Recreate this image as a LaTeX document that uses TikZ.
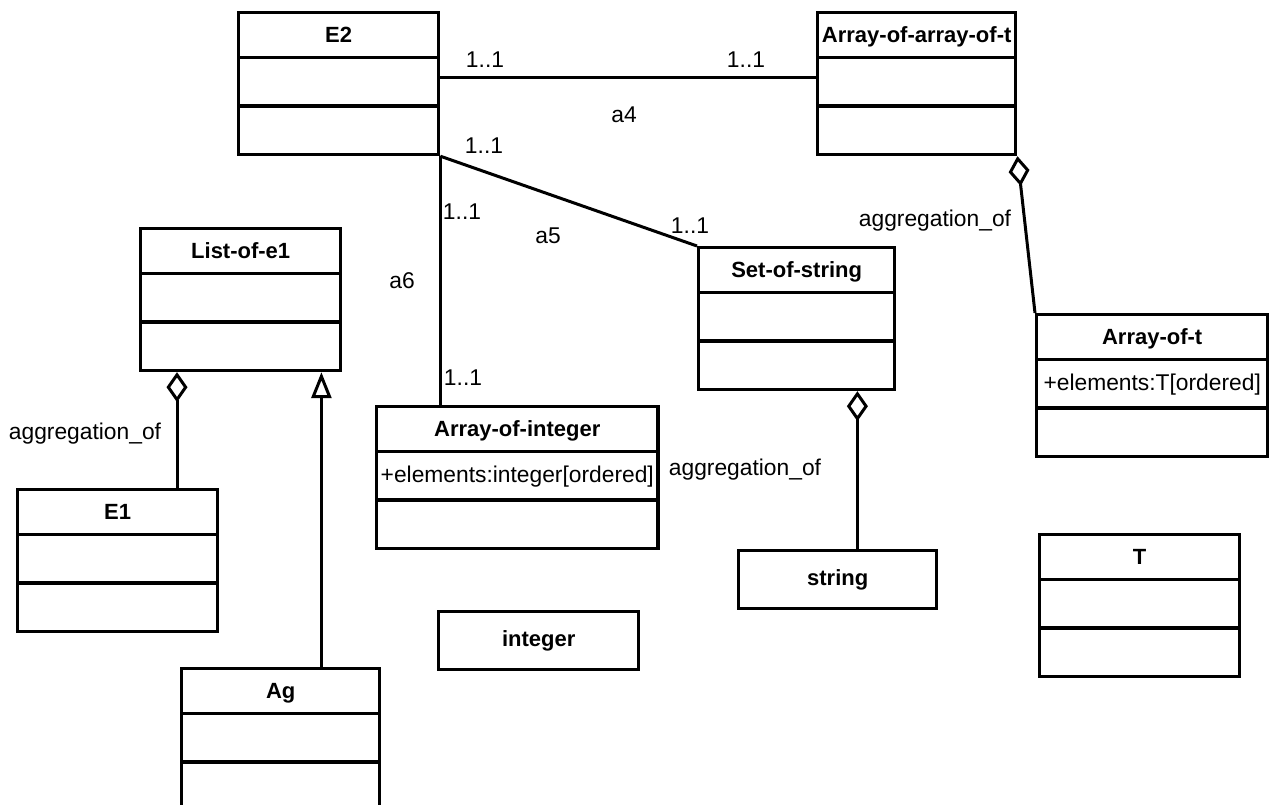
\documentclass[tikz,border=0pt]{standalone}
\usepackage{fontspec}
\setmainfont{Liberation Sans}
\usetikzlibrary{shapes.multipart,arrows.meta}

\newcommand{\lblfont}{\fontsize{11.4}{13}\selectfont}
\newcommand{\ttlfont}{\fontsize{11}{13}\selectfont\bfseries}
\newcommand{\ctitle}[1]{\rule[-6.8pt]{0pt}{20.6pt}{\ttlfont #1}}
\newcommand{\cslot}[1]{\rule[-7.8pt]{0pt}{22.6pt}#1}

\tikzset{
  umlclass/.style={rectangle split,rectangle split parts=3,draw,line width=1.7pt,
    anchor=north west,inner xsep=2pt,inner ysep=0pt,font=\lblfont},
  umlbox/.style={draw,line width=1.7pt,anchor=north west,minimum height=29pt,font=\ttlfont},
  lbl/.style={font=\lblfont,inner sep=0pt},
  assoc/.style={line width=1.5pt},
  aggr/.style={line width=1.5pt,{Diamond[open,length=15pt,width=10.5pt]}-},
  gener/.style={line width=1.5pt,-{Triangle[open,length=13pt,width=10pt]}}
}

\begin{document}
\begin{tikzpicture}[x=0.5pt,y=-0.5pt]
  \useasboundingbox (0,0) rectangle (1269,804);

  % classes
  \node[umlclass,minimum width=100pt] (E2) at (237,11)
    {\ctitle{E2}\nodepart{two}\cslot{}\nodepart{three}\cslot{}};
  \node[umlclass,minimum width=99pt] (aaot) at (816,11)
    {\ctitle{Array-of-array-of-t}\nodepart{two}\cslot{}\nodepart{three}\cslot{}};
  \node[umlclass,minimum width=100pt] (loe1) at (139,227)
    {\ctitle{List-of-e1}\nodepart{two}\cslot{}\nodepart{three}\cslot{}};
  \node[umlclass,minimum width=98pt] (sos) at (697,246)
    {\ctitle{Set-of-string}\nodepart{two}\cslot{}\nodepart{three}\cslot{}};
  \node[umlclass,minimum width=140.5pt] (aoi) at (375,405)
    {\ctitle{Array-of-integer}\nodepart{two}\cslot{+elements:integer[ordered]}\nodepart{three}\cslot{}};
  \node[umlclass,minimum width=115.5pt] (aot) at (1035,313)
    {\ctitle{Array-of-t}\nodepart{two}\cslot{+elements:T[ordered]}\nodepart{three}\cslot{}};
  \node[umlclass,minimum width=100pt] (E1) at (16,488)
    {\ctitle{E1}\nodepart{two}\cslot{}\nodepart{three}\cslot{}};
  \node[umlclass,minimum width=99pt] (Ag) at (180,667)
    {\ctitle{Ag}\nodepart{two}\cslot{}\nodepart{three}\cslot{}};
  \node[umlclass,minimum width=100pt] (T) at (1038,533)
    {\ctitle{T}\nodepart{two}\cslot{}\nodepart{three}\cslot{}};
  \node[umlbox,minimum width=99pt] (string) at (737,549) {string};
  \node[umlbox,minimum width=100pt] (integer) at (437,610) {integer};

  % associations
  \draw[assoc] ([yshift=3pt]E2.east) -- ([yshift=3pt]aaot.west);
  \draw[assoc] (E2.south east) -- (sos.north west);
  \draw[assoc] (E2.south east) -- (E2.south east |- aoi.north);

  % aggregations and generalization
  \draw[aggr] (aaot.south east) -- (aot.north west);
  \draw[aggr] ([xshift=19pt]loe1.south west) -- ([xshift=19pt]loe1.south west |- E1.north);
  \draw[aggr] ([xshift=-19.5pt]sos.south east) -- ([xshift=-19.5pt]sos.south east |- string.north);
  \draw[gener] ([xshift=-10.5pt]loe1.south east |- Ag.north) -- ([xshift=-10.5pt]loe1.south east);

  % labels
  \node[lbl] (m1) at (485,60) {1..1};
  \node[lbl] (m2) at (746,60) {1..1};
  \node[lbl] (a4) at (624,115) {a4};
  \node[lbl] (m3) at (484,146) {1..1};
  \node[lbl] (m4) at (690,226) {1..1};
  \node[lbl] (a5) at (548,236) {a5};
  \node[lbl] (m5) at (462,212) {1..1};
  \node[lbl] (a6) at (402,281) {a6};
  \node[lbl] (m6) at (463,378) {1..1};
  \node[lbl] (g1) at (85,434) {aggregation\_of};
  \node[lbl] (g2) at (935,221) {aggregation\_of};
  \node[lbl] (g3) at (745,470) {aggregation\_of};
\end{tikzpicture}
\end{document}
